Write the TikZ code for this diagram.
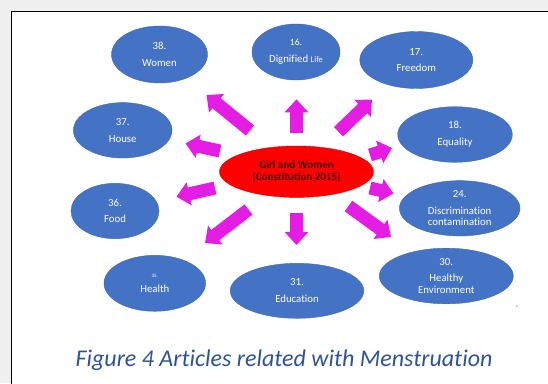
\documentclass[tikz,border=0pt]{standalone}
\usepackage{fontspec}
\setmainfont{Carlito}[Ligatures={NoCommon}]
\usetikzlibrary{shapes.geometric,arrows.meta}
\definecolor{bgray}{RGB}{240,240,240}
\definecolor{oblue}{RGB}{68,114,196}
\definecolor{oblueedge}{RGB}{62,104,184}
\definecolor{mag}{RGB}{228,28,228}
\definecolor{capblue}{RGB}{47,84,150}
\definecolor{darktext}{RGB}{60,0,0}
\begin{document}
\begin{tikzpicture}[x=1pt,y=-1pt,
  art/.style={ellipse, fill=oblue, draw=oblueedge, line width=0.4pt, inner sep=0pt,
    text=white, align=center, font=\fontsize{10.8}{11.7}\selectfont},
  hub/.style={ellipse, fill=red, draw=red!90!black, line width=0.4pt, inner sep=0pt,
    text=darktext, align=center, font=\bfseries\fontsize{11}{11.7}\selectfont},
  blockarrow/.style={draw=mag, fill=mag, line width=13pt,
    -{Triangle[length=13pt 0 0,width=23pt 0 0]}}]
\clip (0,0) rectangle (548,383);
\fill[bgray] (0,0) rectangle (548,383);
\draw[fill=white, line width=1.3pt] (11.5,11.5) rectangle (600,450);

% central node
\node[hub, minimum width=154pt, minimum height=51.4pt] (hubnode) at (296.5,171.7)
  {Girl and Women\\(Constitution 2015)};

% article ellipses
\node[art, minimum width=96pt, minimum height=57pt] (women) at (159.5,54.5) {38.\\[5pt]Women};
\node[art, minimum width=88pt, minimum height=56pt] (dignified) at (296,52)
  {{\fontsize{9.5}{11}\selectfont 16.}\\[5pt]Dignified {\fontsize{8.5}{10}\selectfont Life}};
\node[art, minimum width=113pt, minimum height=57pt] (freedom) at (416.3,60) {17.\\[5pt]Freedom};
\node[art, minimum width=98.6pt, minimum height=55.4pt] (house) at (122.7,130.3) {37.\\[5pt]House};
\node[art, minimum width=114.6pt, minimum height=55.6pt] (equality) at (455,134.5) {18.\\[5pt]Equality};
\node[art, minimum width=88pt, minimum height=55.4pt] (food) at (115,211) {36.\\[5pt]Food};
\node[art, minimum width=120.6pt, minimum height=55.3pt] (discrim) at (459.7,208.3)
  {24.\\[5pt]Discrimination\\contamination};
\node[art, minimum width=101.6pt, minimum height=56pt] (health) at (154.8,283.3)
  {{\fontsize{5}{6}\selectfont 35.}\\[4pt]Health};
\node[art, minimum width=133.6pt, minimum height=55pt] (education) at (297,290.8) {31.\\[5pt]Education};
\node[art, minimum width=134pt, minimum height=55.6pt] (healthy) at (446.3,276)
  {30.\\[5pt]Healthy\\Environment};

% arrows (tail / head coordinates)
\coordinate (t1) at (250,130.5);   \coordinate (h1) at (206.5,95);
\coordinate (t2) at (296.5,133.3); \coordinate (h2) at (296.5,99.3);
\coordinate (t3) at (338.5,131.7); \coordinate (h3) at (372,99.5);
\coordinate (t4) at (220,151);     \coordinate (h4) at (185.5,143.5);
\coordinate (t5) at (370,155);     \coordinate (h5) at (392,148);
\coordinate (t6) at (215,188);     \coordinate (h6) at (176.5,196.7);
\coordinate (t7) at (370,188);     \coordinate (h7) at (393.5,193.5);
\coordinate (t8) at (248.5,209.5); \coordinate (h8) at (205,243);
\coordinate (t9) at (296.5,213.3); \coordinate (h9) at (296.5,245);
\coordinate (t10) at (348.5,206);  \coordinate (h10) at (391,237);
\foreach \i in {1,...,10} { \draw[blockarrow] (t\i) -- (h\i); }

% small speck
\fill[gray!50] (516.7,306) circle (1.1);

% caption
\node[anchor=base, text=capblue, font=\itshape\fontsize{24}{28}\selectfont, inner sep=0pt] (caption)
  at (284,366.5) {Figure 4 Articles related with Menstruation};
\end{tikzpicture}
\end{document}
